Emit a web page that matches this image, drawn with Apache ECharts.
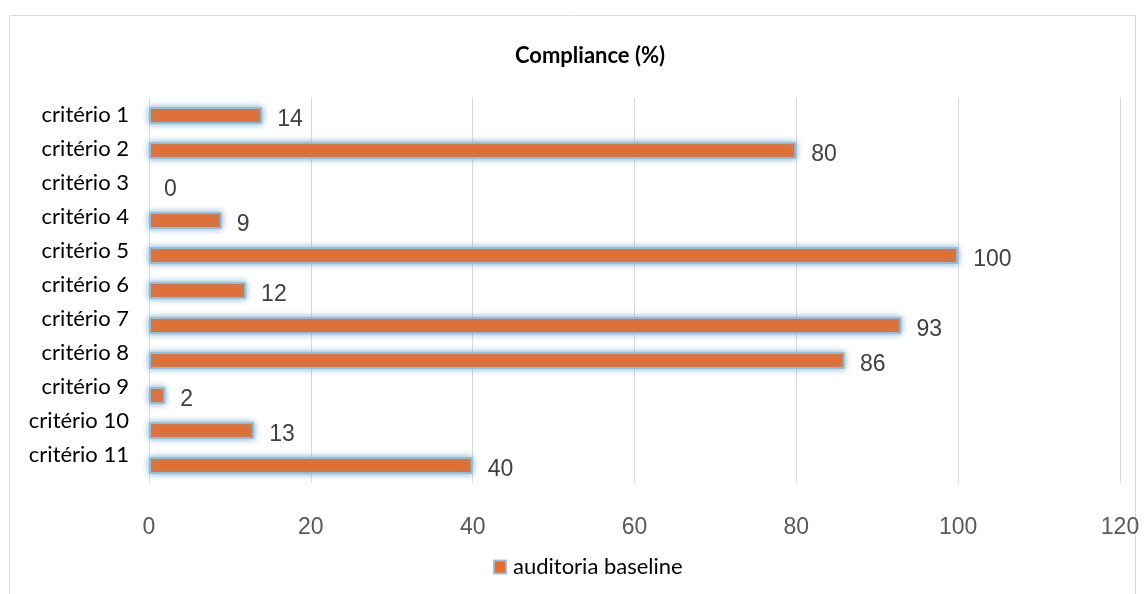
<!DOCTYPE html>
<html>
<head>
<meta charset="utf-8">
<script src="https://cdn.jsdelivr.net/npm/echarts@6/dist/echarts.min.js"></script>
<style>
  html, body { margin: 0; padding: 0; background: #fff; }
  #chart { width: 1145px; height: 594px; }
</style>
</head>
<body>
<div id="chart"></div>
<script>
// Compliance per criterion, baseline audit
const categories = ['critério 1', 'critério 2', 'critério 3', 'critério 4', 'critério 5', 'critério 6',
                    'critério 7', 'critério 8', 'critério 9', 'critério 10', 'critério 11'];
const baselineValues = [14, 80, 0, 9, 100, 12, 93, 86, 2, 13, 40];
const seriesName = 'auditoria baseline';
const chartTitle = 'Compliance (%)';

const chart = echarts.init(document.getElementById('chart'), null, { renderer: 'canvas' });

// zero-length bars get no halo
const barData = baselineValues.map(v => v === 0
  ? { value: v, itemStyle: { borderWidth: 0, shadowBlur: 0 } }
  : v);

chart.setOption({
  animation: false,
  backgroundColor: '#ffffff',
  graphic: [{
    type: 'rect',
    shape: { x: 9.5, y: 15.5, width: 1126, height: 600 },
    style: { fill: 'none', stroke: '#d9d9d9', lineWidth: 1 },
    silent: true, z: -1
  }],
  title: {
    text: chartTitle,
    left: 585,
    textAlign: 'center',
    top: 40,
    textStyle: { fontFamily: 'Lato', fontWeight: 'bold', fontSize: 22, color: '#000000' }
  },
  grid: [
    // plot area
    { left: 149, right: 25, top: 98, height: 385, containLabel: false },
    // category label column, slightly tighter spacing than the bars
    { left: 149, right: 25, top: 98, height: 374, containLabel: false }
  ],
  xAxis: [{
    type: 'value',
    gridIndex: 0,
    min: 0, max: 120, interval: 20,
    axisLine: { show: false },
    axisTick: { show: false },
    splitLine: { lineStyle: { color: '#d9d9d9', width: 1 } },
    axisLabel: { margin: 33, fontFamily: 'Liberation Sans', fontSize: 23, color: '#595959' }
  }, {
    type: 'value',
    gridIndex: 1,
    show: false
  }],
  yAxis: [{
    type: 'category',
    gridIndex: 0,
    data: categories,
    inverse: true,
    axisLine: { show: true, lineStyle: { color: '#d9d9d9', width: 1 } },
    axisTick: { show: false },
    axisLabel: { show: false }
  }, {
    type: 'category',
    gridIndex: 1,
    data: categories,
    inverse: true,
    axisLine: { show: false },
    axisTick: { show: false },
    splitLine: { show: false },
    axisLabel: { margin: 20, fontFamily: 'Lato', fontSize: 22, color: '#000000' }
  }],
  legend: {
    data: [seriesName],
    top: 551,
    left: 488,
    icon: 'rect',
    itemWidth: 12, itemHeight: 13, itemGap: 5,
    textStyle: { fontFamily: 'Lato', fontSize: 22, color: '#000000', padding: [0, 0, 0, 2] }
  },
  series: [{
    name: seriesName,
    type: 'bar',
    xAxisIndex: 0,
    yAxisIndex: 0,
    data: barData,
    barWidth: 17,
    itemStyle: {
      color: '#E66D30',
      borderColor: 'rgba(150,190,215,0.9)',
      borderWidth: 2,
      shadowColor: 'rgba(110,165,205,0.9)',
      shadowBlur: 6
    },
    label: {
      show: true,
      position: 'right',
      distance: 15,
      offset: [0, 4],
      fontFamily: 'Liberation Sans',
      fontSize: 23,
      color: '#404040'
    }
  }]
});
</script>
</body>
</html>
